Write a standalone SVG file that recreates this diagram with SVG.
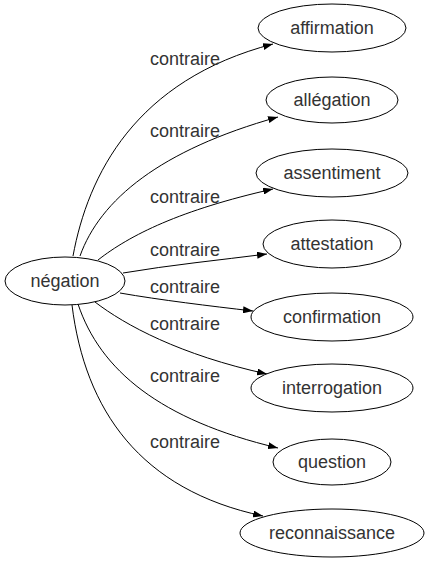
<svg xmlns="http://www.w3.org/2000/svg" width="430" height="563" viewBox="0 0 430 563">
<defs>
<style>
.node ellipse{fill:#fff;stroke:#000;stroke-width:1}
.node text{font-family:"Liberation Sans",Arial,sans-serif;font-size:18px;fill:#333;text-anchor:middle}
.edges path{fill:none;stroke:#000;stroke-width:1}
.edges text{font-family:"Liberation Sans",Arial,sans-serif;font-size:18px;fill:#333;text-anchor:middle}
</style>
<marker id="arr" viewBox="0 0 10 7" refX="10" refY="3.5" markerWidth="10" markerHeight="7" markerUnits="userSpaceOnUse" orient="auto">
<path d="M0,0 L10,3.5 L0,7 Z" fill="#000"/>
</marker>
</defs>
<rect width="430" height="563" fill="#fff"/>
<g id="edges" class="edges">
<path d="M73,256 C88,175 135,80 273,44" marker-end="url(#arr)"/>
<path d="M80,256 C100,200 160,150 278,117" marker-end="url(#arr)"/>
<path d="M98,260 C130,235 180,210 273,189" marker-end="url(#arr)"/>
<path d="M123,273 C170,265 220,260 267,254" marker-end="url(#arr)"/>
<path d="M120,293 C160,300 210,306 253,311" marker-end="url(#arr)"/>
<path d="M95,302 C125,325 180,355 267,374" marker-end="url(#arr)"/>
<path d="M78,304 C100,370 160,420 278,448" marker-end="url(#arr)"/>
<path d="M72,305 C85,410 140,490 263,516" marker-end="url(#arr)"/>
<text x="185" y="65">contraire</text>
<text x="185" y="137">contraire</text>
<text x="185" y="203">contraire</text>
<text x="185" y="256">contraire</text>
<text x="185" y="293">contraire</text>
<text x="185" y="330">contraire</text>
<text x="185" y="382">contraire</text>
<text x="185" y="448">contraire</text>
</g>
<g id="negation" class="node"><ellipse cx="65" cy="281" rx="60" ry="24"/><text x="65" y="287">négation</text></g>
<g id="affirmation" class="node"><ellipse cx="332" cy="28" rx="74" ry="24"/><text x="332" y="34">affirmation</text></g>
<g id="allegation" class="node"><ellipse cx="332" cy="100" rx="66" ry="23"/><text x="332" y="106">allégation</text></g>
<g id="assentiment" class="node"><ellipse cx="332" cy="173" rx="76" ry="24"/><text x="332" y="179">assentiment</text></g>
<g id="attestation" class="node"><ellipse cx="332" cy="244" rx="69" ry="24"/><text x="332" y="250">attestation</text></g>
<g id="confirmation" class="node"><ellipse cx="332" cy="317" rx="81" ry="24"/><text x="332" y="323">confirmation</text></g>
<g id="interrogation" class="node"><ellipse cx="332" cy="388" rx="81" ry="24"/><text x="332" y="394">interrogation</text></g>
<g id="question" class="node"><ellipse cx="332" cy="462" rx="59" ry="23"/><text x="332" y="468">question</text></g>
<g id="reconnaissance" class="node"><ellipse cx="332" cy="533" rx="92" ry="24"/><text x="332" y="539">reconnaissance</text></g>
</svg>
